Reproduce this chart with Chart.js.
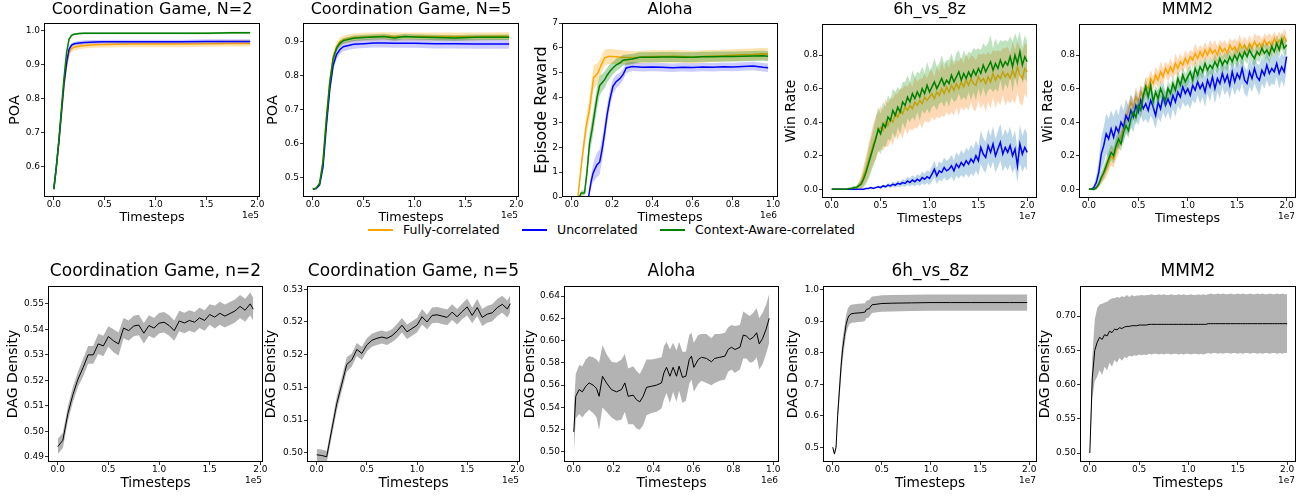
<!DOCTYPE html>
<html>
<head>
<meta charset="utf-8">
<script src="https://cdn.jsdelivr.net/npm/chart.js@4.4.1/dist/chart.umd.min.js"></script>
<style>
  body { margin: 0; background: #fff; width: 1307px; height: 497px; overflow: hidden; position: relative; font-family: "DejaVu Sans", sans-serif; }
  canvas { position: absolute; }
  .ln { position: absolute; top: 229px; width: 25px; height: 1.5px; }
  .tx { position: absolute; top: 222px; font-size: 12.5px; line-height: 16px; color: #000; white-space: nowrap; }
</style>
</head>
<body>
<span class="ln" style="left:368px;background:#FFA500"></span><span class="tx" style="left:403px">Fully-correlated</span>
<span class="ln" style="left:522px;background:#0000FF"></span><span class="tx" style="left:557px">Uncorrelated</span>
<span class="ln" style="left:660px;background:#008000"></span><span class="tx" style="left:695px">Context-Aware-correlated</span>
<script>
// ---- tick values ----
const xTicks2 = [0, 0.5, 1.0, 1.5, 2.0];
const xTicks1 = [0, 0.2, 0.4, 0.6, 0.8, 1.0];
const poa2Ticks = [0.6, 0.7, 0.8, 0.9, 1.0];
const poa5Ticks = [0.5, 0.6, 0.7, 0.8, 0.9];
const rewardTicks = [0, 1, 2, 3, 4, 5, 6, 7];
const winTicks = [0.0, 0.2, 0.4, 0.6, 0.8];
const dagN2Ticks = [0.49, 0.50, 0.51, 0.52, 0.53, 0.54, 0.55];
const dagN5Ticks = [0.500, 0.505, 0.510, 0.515, 0.520, 0.525];
const dagAloTicks = [0.50, 0.52, 0.54, 0.56, 0.58, 0.60, 0.62, 0.64];
const dagH6Ticks = [0.5, 0.6, 0.7, 0.8, 0.9, 1.0];
const dagMmTicks = [0.50, 0.55, 0.60, 0.65, 0.70];

// ---- Coordination game N=2 (x in 1e5) ----
const cg2X = [0, 0.025, 0.05, 0.075, 0.1, 0.125, 0.15, 0.175, 0.2, 0.25, 0.3, 0.4, 0.5, 0.75, 1.0, 1.25, 1.5, 1.75, 1.93];
const cg2Orange = [0.534, 0.6, 0.67, 0.755, 0.835, 0.895, 0.935, 0.947, 0.951, 0.954, 0.956, 0.958, 0.959, 0.96, 0.96, 0.96, 0.961, 0.962, 0.962];
const cg2Blue = [0.534, 0.6, 0.675, 0.76, 0.845, 0.905, 0.945, 0.957, 0.961, 0.963, 0.965, 0.966, 0.967, 0.967, 0.967, 0.967, 0.968, 0.968, 0.968];
const cg2Green = [0.534, 0.6, 0.68, 0.77, 0.86, 0.934, 0.975, 0.986, 0.989, 0.991, 0.992, 0.992, 0.992, 0.992, 0.992, 0.992, 0.992, 0.993, 0.993];
const cg2OrangeSd = [0, 0.004, 0.007, 0.009, 0.01, 0.01, 0.01, 0.009, 0.009, 0.009, 0.009, 0.009, 0.009, 0.009, 0.009, 0.009, 0.009, 0.009, 0.009];
const cg2BlueSd = [0, 0.004, 0.006, 0.008, 0.008, 0.008, 0.007, 0.006, 0.006, 0.006, 0.006, 0.006, 0.006, 0.006, 0.006, 0.006, 0.006, 0.006, 0.006];
const cg2GreenSd = [0, 0.004, 0.006, 0.008, 0.008, 0.006, 0.004, 0.003, 0.003, 0.003, 0.003, 0.003, 0.003, 0.003, 0.003, 0.003, 0.003, 0.003, 0.003];

// ---- Coordination game N=5 (x in 1e5) ----
const cg5X = [0, 0.033, 0.067, 0.1, 0.133, 0.167, 0.2, 0.233, 0.267, 0.3, 0.4, 0.5, 0.6, 0.7, 0.8, 0.9, 1.0, 1.2, 1.4, 1.6, 1.8, 1.93];
const cg5Orange = [0.465, 0.468, 0.483, 0.548, 0.675, 0.785, 0.855, 0.885, 0.9, 0.906, 0.912, 0.914, 0.915, 0.916, 0.915, 0.915, 0.915, 0.915, 0.915, 0.915, 0.916, 0.916];
const cg5Blue = [0.465, 0.467, 0.478, 0.53, 0.65, 0.76, 0.83, 0.862, 0.877, 0.885, 0.892, 0.894, 0.896, 0.896, 0.895, 0.895, 0.895, 0.894, 0.894, 0.893, 0.893, 0.893];
const cg5Green = [0.465, 0.468, 0.482, 0.545, 0.67, 0.78, 0.85, 0.88, 0.895, 0.903, 0.91, 0.912, 0.914, 0.915, 0.911, 0.915, 0.914, 0.912, 0.911, 0.913, 0.913, 0.913];
const cg5OrangeSd = [0, 0.002, 0.004, 0.008, 0.012, 0.014, 0.014, 0.013, 0.013, 0.012, 0.012, 0.012, 0.012, 0.012, 0.012, 0.012, 0.012, 0.012, 0.012, 0.012, 0.012, 0.012];
const cg5BlueSd = [0, 0.002, 0.004, 0.008, 0.012, 0.014, 0.014, 0.014, 0.013, 0.013, 0.013, 0.013, 0.013, 0.013, 0.013, 0.013, 0.013, 0.014, 0.014, 0.014, 0.014, 0.014];
const cg5GreenSd = [0, 0.002, 0.003, 0.006, 0.009, 0.01, 0.01, 0.009, 0.008, 0.008, 0.008, 0.008, 0.008, 0.008, 0.008, 0.008, 0.008, 0.008, 0.008, 0.008, 0.008, 0.008];

// ---- Aloha episode reward (x in 1e6) ----
const aloOrangeX = [0.03, 0.05, 0.071, 0.085, 0.1, 0.108, 0.12, 0.13, 0.145, 0.163, 0.18, 0.2, 0.25, 0.3, 0.35, 0.4, 0.45, 0.5, 0.55, 0.6, 0.65, 0.7, 0.75, 0.8, 0.85, 0.9, 0.95, 0.975];
const aloOrange = [0, 1.5, 2.84, 3.4, 4.3, 4.8, 4.9, 5.0, 5.3, 5.6, 5.65, 5.65, 5.62, 5.6, 5.63, 5.65, 5.65, 5.66, 5.65, 5.62, 5.65, 5.67, 5.68, 5.7, 5.72, 5.73, 5.76, 5.74];
const aloOrangeSd = [0, 0.3, 0.4, 0.45, 0.5, 0.5, 0.45, 0.4, 0.35, 0.33, 0.3, 0.3, 0.28, 0.26, 0.25, 0.25, 0.25, 0.25, 0.25, 0.25, 0.25, 0.24, 0.24, 0.24, 0.24, 0.24, 0.24, 0.24];
const aloBlueX = [0.083, 0.095, 0.105, 0.113, 0.125, 0.138, 0.15, 0.163, 0.175, 0.188, 0.204, 0.221, 0.237, 0.254, 0.27, 0.3, 0.35, 0.4, 0.45, 0.5, 0.55, 0.6, 0.65, 0.7, 0.75, 0.8, 0.85, 0.9, 0.95, 0.975];
const aloBlue = [0, 0.6, 0.95, 1.1, 1.3, 1.4, 1.9, 2.6, 3.3, 3.9, 4.45, 4.65, 4.75, 4.92, 5.19, 5.25, 5.22, 5.23, 5.22, 5.2, 5.22, 5.21, 5.23, 5.22, 5.24, 5.23, 5.25, 5.27, 5.22, 5.2];
const aloBlueSd = [0, 0.25, 0.35, 0.45, 0.5, 0.5, 0.45, 0.4, 0.38, 0.35, 0.3, 0.27, 0.24, 0.22, 0.2, 0.18, 0.17, 0.17, 0.17, 0.17, 0.17, 0.17, 0.17, 0.17, 0.17, 0.17, 0.17, 0.17, 0.17, 0.17];
const aloGreenX = [0.038, 0.045, 0.063, 0.075, 0.088, 0.1, 0.113, 0.125, 0.138, 0.15, 0.163, 0.175, 0.188, 0.205, 0.221, 0.24, 0.254, 0.3, 0.337, 0.4, 0.45, 0.5, 0.55, 0.6, 0.65, 0.7, 0.75, 0.8, 0.85, 0.9, 0.95, 0.975];
const aloGreen = [0, 0.15, 0.17, 1.0, 2.17, 2.7, 3.38, 4.0, 4.48, 4.6, 4.72, 4.9, 5.05, 5.2, 5.32, 5.4, 5.5, 5.55, 5.62, 5.62, 5.63, 5.63, 5.62, 5.62, 5.64, 5.64, 5.65, 5.65, 5.66, 5.67, 5.68, 5.66];
const aloGreenSd = [0, 0.1, 0.12, 0.3, 0.4, 0.45, 0.45, 0.45, 0.4, 0.35, 0.33, 0.3, 0.28, 0.25, 0.25, 0.22, 0.22, 0.2, 0.2, 0.2, 0.2, 0.2, 0.2, 0.2, 0.2, 0.2, 0.2, 0.2, 0.2, 0.2, 0.2, 0.2];

// ---- SMAC runs share one x grid (x in 1e7) ----
const smacX = [
  0, 0.025, 0.05, 0.075, 0.1, 0.125, 0.15, 0.175,
  0.2, 0.225, 0.25, 0.275, 0.3, 0.325, 0.35, 0.375,
  0.4, 0.425, 0.45, 0.475, 0.5, 0.525, 0.55, 0.575,
  0.6, 0.625, 0.65, 0.675, 0.7, 0.725, 0.75, 0.775,
  0.8, 0.825, 0.85, 0.875, 0.9, 0.925, 0.95, 0.975,
  1.0, 1.025, 1.05, 1.075, 1.1, 1.125, 1.15, 1.175,
  1.2, 1.225, 1.25, 1.275, 1.3, 1.325, 1.35, 1.375,
  1.4, 1.425, 1.45, 1.475, 1.5, 1.525, 1.55, 1.575,
  1.6, 1.625, 1.65, 1.675, 1.7, 1.725, 1.75, 1.775,
  1.8, 1.825, 1.85, 1.875, 1.9, 1.925, 1.95, 1.975,
  2.0];

// 6h_vs_8z win rate
const h6Orange = [
  0, 0, 0, 0, 0, 0, 0, 0,
  0, 0.005, 0.01, 0.02, 0.04, 0.08, 0.12, 0.17,
  0.22, 0.27, 0.31, 0.34, 0.37, 0.35, 0.4, 0.38,
  0.42, 0.4, 0.45, 0.43, 0.47, 0.45, 0.49, 0.47,
  0.5, 0.48, 0.52, 0.5, 0.53, 0.51, 0.55, 0.53,
  0.55, 0.57, 0.54, 0.58, 0.56, 0.6, 0.57, 0.61,
  0.58, 0.62, 0.59, 0.63, 0.6, 0.64, 0.61, 0.65,
  0.62, 0.66, 0.63, 0.62, 0.67, 0.64, 0.66, 0.63,
  0.67, 0.64, 0.69, 0.65, 0.68, 0.66, 0.7, 0.67,
  0.69, 0.66, 0.71, 0.67, 0.73, 0.68, 0.66, 0.72,
  0.7];
const h6Blue = [
  0, 0, 0, 0, 0, 0, 0, 0,
  0, 0, 0, 0, 0, 0, 0.005, 0.005,
  0.01, 0.005, 0.01, 0.015, 0.01, 0.02, 0.015, 0.025,
  0.02, 0.03, 0.025, 0.035, 0.03, 0.04, 0.035, 0.05,
  0.04, 0.055, 0.045, 0.06, 0.05, 0.07, 0.06, 0.075,
  0.065, 0.09, 0.12, 0.08, 0.11, 0.1, 0.13, 0.11,
  0.12, 0.14, 0.11, 0.15, 0.13, 0.16, 0.14, 0.17,
  0.15, 0.18, 0.16, 0.2, 0.17, 0.25, 0.21, 0.19,
  0.26, 0.22, 0.27, 0.2, 0.24, 0.28, 0.21, 0.25,
  0.22, 0.26, 0.2, 0.24, 0.14, 0.27, 0.21, 0.25,
  0.22];
const h6Green = [
  0, 0, 0, 0, 0, 0, 0, 0.005,
  0.005, 0.01, 0.01, 0.02, 0.03, 0.06, 0.1, 0.15,
  0.2, 0.25, 0.3, 0.36, 0.33, 0.39, 0.37, 0.43,
  0.41, 0.47, 0.44, 0.49, 0.46, 0.52, 0.5, 0.55,
  0.52, 0.57, 0.54, 0.58, 0.55, 0.6, 0.57, 0.62,
  0.58, 0.61, 0.64, 0.6, 0.63, 0.66, 0.62, 0.65,
  0.63, 0.68, 0.64, 0.67, 0.7, 0.65, 0.69, 0.66,
  0.7, 0.67, 0.71, 0.68, 0.72, 0.69, 0.74, 0.7,
  0.73, 0.76, 0.71, 0.75, 0.72, 0.77, 0.73, 0.76,
  0.74, 0.79, 0.73, 0.8, 0.75, 0.82, 0.74, 0.79,
  0.76];
const h6OrangeSd = [
  0, 0, 0, 0, 0, 0, 0, 0,
  0, 0.005, 0.01, 0.02, 0.04, 0.06, 0.08, 0.1,
  0.11, 0.12, 0.13, 0.12, 0.13, 0.12, 0.14, 0.13,
  0.13, 0.14, 0.12, 0.14, 0.13, 0.15, 0.13, 0.14,
  0.14, 0.13, 0.15, 0.14, 0.13, 0.15, 0.14, 0.13,
  0.15, 0.14, 0.13, 0.15, 0.14, 0.16, 0.14, 0.15,
  0.14, 0.16, 0.15, 0.14, 0.16, 0.15, 0.14, 0.16,
  0.15, 0.14, 0.16, 0.15, 0.14, 0.16, 0.15, 0.17,
  0.15, 0.16, 0.14, 0.17, 0.15, 0.16, 0.14, 0.17,
  0.16, 0.15, 0.17, 0.16, 0.15, 0.17, 0.16, 0.15,
  0.16];
const h6BlueSd = [
  0, 0, 0, 0, 0, 0, 0, 0,
  0, 0, 0, 0, 0, 0, 0.003, 0.003,
  0.006, 0.004, 0.006, 0.008, 0.007, 0.01, 0.009, 0.012,
  0.012, 0.015, 0.014, 0.018, 0.017, 0.02, 0.02, 0.025,
  0.024, 0.028, 0.027, 0.03, 0.03, 0.035, 0.034, 0.038,
  0.04, 0.045, 0.05, 0.048, 0.055, 0.053, 0.06, 0.058,
  0.062, 0.065, 0.063, 0.07, 0.068, 0.075, 0.072, 0.078,
  0.08, 0.085, 0.083, 0.09, 0.088, 0.1, 0.095, 0.092,
  0.1, 0.098, 0.105, 0.1, 0.108, 0.11, 0.104, 0.11,
  0.108, 0.112, 0.105, 0.11, 0.1, 0.115, 0.108, 0.112,
  0.11];
const h6GreenSd = [
  0, 0, 0, 0, 0, 0, 0, 0.005,
  0.005, 0.01, 0.01, 0.02, 0.03, 0.05, 0.07, 0.09,
  0.1, 0.11, 0.12, 0.13, 0.12, 0.13, 0.12, 0.13,
  0.12, 0.13, 0.14, 0.12, 0.13, 0.12, 0.14, 0.13,
  0.12, 0.14, 0.13, 0.12, 0.14, 0.13, 0.12, 0.14,
  0.13, 0.12, 0.14, 0.13, 0.12, 0.14, 0.13, 0.12,
  0.14, 0.13, 0.12, 0.14, 0.13, 0.12, 0.14, 0.13,
  0.12, 0.14, 0.13, 0.15, 0.12, 0.14, 0.13, 0.15,
  0.14, 0.16, 0.13, 0.15, 0.14, 0.12, 0.15, 0.13,
  0.14, 0.12, 0.15, 0.13, 0.14, 0.12, 0.11, 0.13,
  0.12];

// MMM2 win rate
const mmOrange = [
  0, 0, 0, 0.01, 0.03, 0.06, 0.09, 0.12,
  0.16, 0.2, 0.18, 0.24, 0.27, 0.32, 0.37, 0.42,
  0.47, 0.52, 0.49, 0.55, 0.52, 0.58, 0.55, 0.62,
  0.6, 0.66, 0.63, 0.68, 0.65, 0.7, 0.67, 0.72,
  0.69, 0.73, 0.7, 0.75, 0.72, 0.76, 0.74, 0.78,
  0.75, 0.79, 0.77, 0.81, 0.78, 0.82, 0.79, 0.83,
  0.8, 0.84, 0.81, 0.83, 0.8, 0.85, 0.82, 0.84,
  0.81, 0.86, 0.83, 0.85, 0.82, 0.87, 0.84, 0.86,
  0.83, 0.87, 0.84, 0.88, 0.85, 0.87, 0.84, 0.89,
  0.86, 0.88, 0.85, 0.9, 0.86, 0.89, 0.87, 0.91,
  0.88];
const mmBlue = [
  0, 0, 0.01, 0.04, 0.1, 0.21, 0.26, 0.33,
  0.3, 0.36, 0.31, 0.37, 0.34, 0.4, 0.37, 0.44,
  0.41, 0.47, 0.43, 0.5, 0.46, 0.53, 0.48, 0.51,
  0.47, 0.53, 0.49, 0.44, 0.52, 0.48, 0.55, 0.5,
  0.54, 0.5, 0.56, 0.52, 0.58, 0.55, 0.61, 0.57,
  0.6, 0.56, 0.62, 0.59, 0.64, 0.6, 0.63, 0.58,
  0.65, 0.61, 0.67, 0.6, 0.66, 0.63, 0.69, 0.64,
  0.68, 0.62, 0.7, 0.64, 0.69, 0.66, 0.72, 0.65,
  0.63, 0.7, 0.66, 0.72, 0.67, 0.65, 0.71, 0.68,
  0.74, 0.69, 0.72, 0.7, 0.75, 0.69, 0.73, 0.7,
  0.79];
const mmGreen = [
  0, 0, 0, 0.01, 0.03, 0.07, 0.1, 0.14,
  0.18, 0.22, 0.2, 0.26, 0.3, 0.27, 0.34, 0.38,
  0.35, 0.42, 0.46, 0.43, 0.5, 0.47, 0.56, 0.61,
  0.55, 0.62, 0.52, 0.58, 0.54, 0.6, 0.56, 0.53,
  0.6, 0.57, 0.63, 0.59, 0.66, 0.62, 0.68, 0.64,
  0.67, 0.7, 0.65, 0.72, 0.68, 0.73, 0.7, 0.75,
  0.71, 0.74, 0.72, 0.76, 0.73, 0.78, 0.74, 0.77,
  0.75, 0.79, 0.76, 0.8, 0.77, 0.81, 0.78, 0.82,
  0.79, 0.83, 0.8, 0.78, 0.82, 0.8, 0.84, 0.81,
  0.83, 0.8, 0.85, 0.82, 0.87, 0.83, 0.89, 0.84,
  0.86];
const mmOrangeSd = [
  0, 0, 0.005, 0.01, 0.02, 0.03, 0.04, 0.05,
  0.05, 0.06, 0.05, 0.06, 0.06, 0.05, 0.06, 0.05,
  0.05, 0.04, 0.05, 0.06, 0.05, 0.04, 0.05, 0.05,
  0.06, 0.05, 0.04, 0.05, 0.05, 0.06, 0.05, 0.04,
  0.05, 0.05, 0.04, 0.06, 0.05, 0.05, 0.04, 0.05,
  0.05, 0.04, 0.05, 0.06, 0.05, 0.04, 0.05, 0.05,
  0.04, 0.05, 0.05, 0.06, 0.05, 0.04, 0.05, 0.05,
  0.05, 0.04, 0.05, 0.05, 0.06, 0.05, 0.04, 0.05,
  0.05, 0.05, 0.04, 0.05, 0.06, 0.05, 0.05, 0.04,
  0.05, 0.05, 0.06, 0.04, 0.05, 0.05, 0.04, 0.05,
  0.05];
const mmBlueSd = [
  0, 0.005, 0.02, 0.04, 0.07, 0.1, 0.11, 0.12,
  0.12, 0.11, 0.12, 0.11, 0.1, 0.11, 0.1, 0.1,
  0.09, 0.1, 0.09, 0.09, 0.08, 0.09, 0.08, 0.09,
  0.08, 0.09, 0.08, 0.08, 0.09, 0.08, 0.09, 0.08,
  0.08, 0.09, 0.08, 0.09, 0.08, 0.08, 0.09, 0.08,
  0.09, 0.08, 0.09, 0.08, 0.08, 0.09, 0.08, 0.09,
  0.08, 0.09, 0.08, 0.09, 0.08, 0.09, 0.08, 0.08,
  0.09, 0.08, 0.09, 0.08, 0.09, 0.08, 0.09, 0.08,
  0.08, 0.09, 0.08, 0.09, 0.08, 0.09, 0.08, 0.08,
  0.09, 0.08, 0.09, 0.08, 0.08, 0.09, 0.08, 0.09,
  0.08];
const mmGreenSd = [
  0, 0, 0.005, 0.01, 0.02, 0.03, 0.04, 0.045,
  0.05, 0.045, 0.05, 0.055, 0.05, 0.045, 0.05, 0.05,
  0.045, 0.05, 0.04, 0.05, 0.045, 0.05, 0.045, 0.05,
  0.05, 0.045, 0.05, 0.04, 0.045, 0.05, 0.045, 0.05,
  0.045, 0.05, 0.045, 0.04, 0.05, 0.045, 0.05, 0.045,
  0.05, 0.045, 0.04, 0.05, 0.045, 0.05, 0.045, 0.04,
  0.045, 0.05, 0.045, 0.05, 0.04, 0.045, 0.05, 0.045,
  0.05, 0.045, 0.04, 0.05, 0.045, 0.05, 0.045, 0.05,
  0.045, 0.04, 0.05, 0.045, 0.05, 0.045, 0.04, 0.05,
  0.045, 0.05, 0.045, 0.04, 0.05, 0.045, 0.05, 0.045,
  0.045];

// ---- DAG density ----
const dagX = [
  0, 0.05, 0.1, 0.15, 0.2, 0.25, 0.3, 0.35, 0.4, 0.45,
  0.5, 0.55, 0.6, 0.65, 0.7, 0.75, 0.8, 0.85, 0.9, 0.95,
  1.0, 1.05, 1.1, 1.15, 1.2, 1.25, 1.3, 1.35, 1.4, 1.45,
  1.5, 1.55, 1.6, 1.65, 1.7, 1.75, 1.8, 1.85, 1.9, 1.93];
const dagN2 = [
  0.494, 0.4965, 0.507, 0.5145, 0.5205, 0.525, 0.530, 0.530, 0.5343, 0.5335,
  0.5372, 0.5355, 0.5343, 0.5405, 0.5395, 0.5413, 0.5417, 0.5385, 0.5415, 0.5405,
  0.5424, 0.5428, 0.5415, 0.5395, 0.5433, 0.5425, 0.5435, 0.5428, 0.5445, 0.5435,
  0.5458, 0.5448, 0.5463, 0.5452, 0.5462, 0.5472, 0.549, 0.5475, 0.55, 0.5479];
const dagN2Sd = [
  0.003, 0.003, 0.003, 0.003, 0.003, 0.0035, 0.0035, 0.0035, 0.004, 0.004,
  0.004, 0.0045, 0.0045, 0.004, 0.004, 0.004, 0.004, 0.004, 0.004, 0.004,
  0.004, 0.004, 0.004, 0.004, 0.004, 0.004, 0.004, 0.004, 0.004, 0.004,
  0.004, 0.0045, 0.0045, 0.0045, 0.0045, 0.0045, 0.0045, 0.0045, 0.0045, 0.0045];
const dagN5 = [
  0.4997, 0.4996, 0.4994, 0.5035, 0.5075, 0.5105, 0.5135, 0.5142, 0.5158, 0.5152,
  0.5165, 0.5172, 0.5175, 0.5177, 0.5175, 0.5179, 0.5186, 0.5195, 0.5185, 0.519,
  0.5195, 0.5208, 0.52, 0.521, 0.5211, 0.5209, 0.5207, 0.5215, 0.5208, 0.5216,
  0.5223, 0.521, 0.5222, 0.5207, 0.5212, 0.5214, 0.5222, 0.5227, 0.522, 0.5228];
const dagN5Sd = [
  0.0009, 0.0009, 0.0009, 0.001, 0.0011, 0.0011, 0.0011, 0.001, 0.001, 0.001,
  0.001, 0.001, 0.001, 0.001, 0.001, 0.001, 0.0011, 0.0011, 0.0011, 0.0011,
  0.0011, 0.0012, 0.0011, 0.0012, 0.0012, 0.0012, 0.0012, 0.0012, 0.0012, 0.0012,
  0.0013, 0.0012, 0.0013, 0.0013, 0.0013, 0.0013, 0.0013, 0.0013, 0.0013, 0.0013];
const dagAloX = [
  0, 0.01, 0.027, 0.043, 0.06, 0.077, 0.097, 0.114, 0.127, 0.144,
  0.164, 0.189, 0.214, 0.239, 0.256, 0.273, 0.298, 0.314, 0.331, 0.348,
  0.365, 0.39, 0.415, 0.44, 0.452, 0.465, 0.482, 0.498, 0.515, 0.528,
  0.545, 0.562, 0.579, 0.59, 0.602, 0.624, 0.64, 0.665, 0.69, 0.707,
  0.732, 0.758, 0.774, 0.791, 0.808, 0.833, 0.85, 0.866, 0.883, 0.9,
  0.917, 0.93, 0.947, 0.964, 0.98];
const dagAlo = [
  0.518, 0.550, 0.556, 0.554, 0.559, 0.562, 0.560, 0.557, 0.550, 0.568,
  0.562, 0.556, 0.554, 0.556, 0.562, 0.550, 0.551, 0.547, 0.545, 0.550,
  0.558, 0.559, 0.560, 0.562, 0.571, 0.576, 0.568, 0.576, 0.568, 0.577,
  0.567, 0.568, 0.583, 0.586, 0.576, 0.583, 0.585, 0.584, 0.581, 0.584,
  0.585, 0.586, 0.592, 0.594, 0.592, 0.594, 0.605, 0.604, 0.601, 0.603,
  0.607, 0.597, 0.602, 0.610, 0.620];
const dagAloSd = [
  0.021, 0.02, 0.022, 0.023, 0.024, 0.024, 0.025, 0.026, 0.03, 0.028,
  0.026, 0.025, 0.026, 0.027, 0.026, 0.025, 0.026, 0.026, 0.025, 0.026,
  0.025, 0.024, 0.024, 0.023, 0.024, 0.023, 0.024, 0.022, 0.023, 0.022,
  0.023, 0.022, 0.022, 0.021, 0.022, 0.022, 0.021, 0.022, 0.021, 0.022,
  0.021, 0.021, 0.02, 0.02, 0.021, 0.02, 0.021, 0.02, 0.021, 0.022,
  0.022, 0.023, 0.023, 0.022, 0.022];
const dagH6X = [0, 0.017, 0.034, 0.05, 0.068, 0.085, 0.1, 0.119, 0.136, 0.153, 0.17, 0.187, 0.22, 0.26, 0.3, 0.33, 0.34, 0.36, 0.37, 0.38, 0.4, 0.45, 0.5, 0.6, 0.8, 1.0, 1.2, 1.4, 1.6, 1.8, 1.98];
const dagH6 = [0.5, 0.479, 0.5, 0.6, 0.682, 0.757, 0.81, 0.852, 0.89, 0.91, 0.92, 0.924, 0.926, 0.927, 0.928, 0.93, 0.937, 0.94, 0.94, 0.945, 0.953, 0.955, 0.957, 0.958, 0.959, 0.96, 0.96, 0.96, 0.96, 0.96, 0.96];
const dagH6Sd = [0, 0.005, 0.01, 0.02, 0.03, 0.035, 0.035, 0.032, 0.03, 0.03, 0.029, 0.029, 0.029, 0.029, 0.029, 0.028, 0.028, 0.028, 0.027, 0.027, 0.026, 0.026, 0.026, 0.026, 0.026, 0.026, 0.026, 0.026, 0.026, 0.026, 0.026];
const dagMm = [
  0.5, 0.61, 0.65, 0.662, 0.669, 0.666, 0.673, 0.671,
  0.678, 0.676, 0.681, 0.68, 0.683, 0.682, 0.684, 0.685,
  0.685, 0.686, 0.686, 0.686, 0.687, 0.687, 0.687, 0.687,
  0.688, 0.688, 0.688, 0.688, 0.688, 0.688, 0.688, 0.688,
  0.688, 0.688, 0.688, 0.688, 0.688, 0.688, 0.688, 0.688,
  0.688, 0.688, 0.688, 0.688, 0.688, 0.688, 0.688, 0.688,
  0.689, 0.689, 0.689, 0.689, 0.689, 0.689, 0.689, 0.689,
  0.689, 0.689, 0.689, 0.689, 0.689, 0.689, 0.689, 0.689,
  0.689, 0.689, 0.689, 0.689, 0.689, 0.689, 0.689, 0.689,
  0.689, 0.689, 0.689, 0.689, 0.689, 0.689, 0.689, 0.689,
  0.689];
const dagMmSd = [
  0, 0.03, 0.045, 0.05, 0.048, 0.052, 0.047, 0.05,
  0.046, 0.05, 0.045, 0.048, 0.044, 0.047, 0.044, 0.046,
  0.043, 0.045, 0.043, 0.044, 0.043, 0.044, 0.043, 0.044,
  0.043, 0.044, 0.043, 0.043, 0.044, 0.043, 0.044, 0.043,
  0.043, 0.044, 0.043, 0.043, 0.044, 0.043, 0.044, 0.043,
  0.043, 0.044, 0.043, 0.043, 0.044, 0.043, 0.044, 0.043,
  0.043, 0.044, 0.043, 0.043, 0.044, 0.043, 0.044, 0.043,
  0.043, 0.044, 0.043, 0.043, 0.044, 0.043, 0.044, 0.043,
  0.043, 0.044, 0.043, 0.043, 0.044, 0.043, 0.044, 0.043,
  0.043, 0.044, 0.043, 0.043, 0.044, 0.043, 0.044, 0.043,
  0.043];

// ---- drawing ----
Chart.defaults.font.family = '"DejaVu Sans", sans-serif';
Chart.defaults.color = '#000';

const LINE = { orange: '#FFA500', blue: '#0000FF', green: '#008000' };
const BAND_A = { orange: 'rgba(255,165,0,0.3)', blue: 'rgba(0,0,255,0.2)', green: 'rgba(0,128,0,0.3)' };
const BAND_B = { orange: 'rgba(255,127,14,0.3)', blue: 'rgba(31,119,180,0.3)', green: 'rgba(44,160,44,0.3)' };
const GREY = 'rgba(128,128,128,0.6)';
const PADL = 50, PADR = 12, PADB = 32;

// mean line + shaded std band (lower edge, upper edge filled to lower)
function series(xs, ys, sd, line, band, order, width) {
  return [
    { data: xs.map((x, i) => ({ x, y: ys[i] - sd[i] })), borderWidth: 0, borderColor: 'transparent', pointRadius: 0, fill: false, order: order + 1 },
    { data: xs.map((x, i) => ({ x, y: ys[i] + sd[i] })), borderWidth: 0, borderColor: 'transparent', pointRadius: 0, fill: '-1', backgroundColor: band, order: order + 1 },
    { data: xs.map((x, i) => ({ x, y: ys[i] })), borderColor: line, borderWidth: width, pointRadius: 0, fill: false, order: order }
  ];
}
function three(x1, o, os, x2, b, bs, x3, g, gs, band) {
  return [
    ...series(x1, o, os, LINE.orange, band.orange, 5, 1.5),
    ...series(x2, b, bs, LINE.blue, band.blue, 3, 1.5),
    ...series(x3, g, gs, LINE.green, band.green, 1, 1.5)
  ];
}

const frame = {
  id: 'frame',
  afterDraw(chart, args, opts) {
    const { ctx, chartArea: a } = chart;
    ctx.save();
    ctx.strokeStyle = '#000';
    ctx.lineWidth = 1;
    ctx.strokeRect(a.left + 0.5, a.top + 0.5, a.right - a.left - 1, a.bottom - a.top - 1);
    ctx.font = '9px "DejaVu Sans"';
    ctx.fillStyle = '#000';
    ctx.textAlign = 'right';
    ctx.textBaseline = 'middle';
    ctx.fillText(opts.offset, a.right - 1, a.bottom + 19);
    ctx.restore();
  }
};

function makeChart(p) {
  const [l, r, t, b] = p.box;
  const W = r - l + PADL + PADR, H = b - t + p.padT + PADB;
  const cv = document.createElement('canvas');
  cv.width = W; cv.height = H;
  cv.style.width = W + 'px'; cv.style.height = H + 'px';
  cv.style.left = (l - PADL) + 'px'; cv.style.top = (t - p.padT) + 'px';
  document.body.appendChild(cv);
  const tickFont = { size: 9, lineHeight: 1 };
  const grid = { display: true, drawOnChartArea: false, drawTicks: true, tickLength: 3, color: '#000', lineWidth: 0.8 };
  new Chart(cv, {
    type: 'line',
    data: { datasets: p.sets },
    options: {
      responsive: false, animation: false, devicePixelRatio: 1,
      layout: { padding: { left: 0, right: PADR, top: 0, bottom: 0 } },
      plugins: {
        legend: { display: false }, tooltip: { enabled: false },
        title: {
          display: true, text: p.title, fullSize: false, color: '#000',
          font: { size: p.tSize, weight: 'normal', lineHeight: 1 },
          padding: { top: p.padT - p.tGap - p.tSize / 2, bottom: p.tGap - p.tSize / 2 }
        },
        frame: { offset: p.offset }
      },
      scales: {
        x: {
          type: 'linear', min: p.xMin, max: p.xMax,
          afterBuildTicks: s => { s.ticks = p.xTicks.map(v => ({ value: v })); },
          afterFit: s => { s.height = PADB; s.paddingLeft = 0; s.paddingRight = 0; },
          ticks: { callback: v => v.toFixed(1), font: tickFont, padding: 0, maxRotation: 0, autoSkip: false },
          grid: grid, border: { display: false },
          title: { display: true, text: 'Timesteps', font: { size: p.xSize, lineHeight: 1 }, padding: { top: 0, bottom: PADB - 21 - p.xSize / 2 } }
        },
        y: {
          type: 'linear', min: p.yMin, max: p.yMax,
          afterBuildTicks: s => { s.ticks = p.yTicks.map(v => ({ value: v })); },
          afterFit: s => { s.width = PADL; s.paddingTop = 0; s.paddingBottom = 0; },
          ticks: { callback: v => v.toFixed(p.yDec), font: tickFont, padding: 1, autoSkip: false },
          grid: grid, border: { display: false },
          title: { display: true, text: p.ylab, font: { size: p.ySize, lineHeight: 1 }, padding: { top: PADL - p.yOff - p.ySize / 2, bottom: 0 } }
        }
      }
    },
    plugins: [frame]
  });
}

const panels = [
  { box: [44, 260, 23, 197], padT: 23, tGap: 13.5, title: 'Coordination Game, N=2', tSize: 16, ylab: 'POA', ySize: 14.5, yOff: 29, xSize: 12.7,
    xMin: -0.0965, xMax: 2.0265, xTicks: xTicks2, yMin: 0.511, yMax: 1.022, yTicks: poa2Ticks, yDec: 1, offset: '1e5',
    sets: three(cg2X, cg2Orange, cg2OrangeSd, cg2X, cg2Blue, cg2BlueSd, cg2X, cg2Green, cg2GreenSd, BAND_A) },
  { box: [303, 519, 23, 197], padT: 23, tGap: 13.5, title: 'Coordination Game, N=5', tSize: 16, ylab: 'POA', ySize: 14.5, yOff: 29.7, xSize: 12.7,
    xMin: -0.0965, xMax: 2.0265, xTicks: xTicks2, yMin: 0.442, yMax: 0.955, yTicks: poa5Ticks, yDec: 1, offset: '1e5',
    sets: three(cg5X, cg5Orange, cg5OrangeSd, cg5X, cg5Blue, cg5BlueSd, cg5X, cg5Green, cg5GreenSd, BAND_A) },
  { box: [562, 778, 23, 197], padT: 23, tGap: 13.5, title: 'Aloha', tSize: 16, ylab: 'Episode Reward', ySize: 16, yOff: 20.3, xSize: 12.7,
    xMin: -0.049, xMax: 1.024, xTicks: xTicks1, yMin: 0, yMax: 7, yTicks: rewardTicks, yDec: 0, offset: '1e6',
    sets: three(aloOrangeX, aloOrange, aloOrangeSd, aloBlueX, aloBlue, aloBlueSd, aloGreenX, aloGreen, aloGreenSd, BAND_A) },
  { box: [822, 1037, 24, 198], padT: 24, tGap: 14, title: '6h_vs_8z', tSize: 16, ylab: 'Win Rate', ySize: 14, yOff: 30.3, xSize: 12.7,
    xMin: -0.1, xMax: 2.1, xTicks: xTicks2, yMin: -0.052, yMax: 0.985, yTicks: winTicks, yDec: 1, offset: '1e7',
    sets: three(smacX, h6Orange, h6OrangeSd, smacX, h6Blue, h6BlueSd, smacX, h6Green, h6GreenSd, BAND_B) },
  { box: [1079, 1296, 24, 198], padT: 24, tGap: 14, title: 'MMM2', tSize: 16, ylab: 'Win Rate', ySize: 14, yOff: 30.7, xSize: 12.7,
    xMin: -0.1, xMax: 2.095, xTicks: xTicks2, yMin: -0.052, yMax: 0.985, yTicks: winTicks, yDec: 1, offset: '1e7',
    sets: three(smacX, mmOrange, mmOrangeSd, smacX, mmBlue, mmBlueSd, smacX, mmGreen, mmGreenSd, BAND_B) },
  { box: [48, 263, 286, 462], padT: 30, tGap: 14.3, title: 'Coordination Game, n=2', tSize: 17, ylab: 'DAG Density', ySize: 14, yOff: 34.7, xSize: 13.7,
    xMin: -0.0965, xMax: 2.0265, xTicks: xTicks2, yMin: 0.488, yMax: 0.557, yTicks: dagN2Ticks, yDec: 2, offset: '1e5',
    sets: series(dagX, dagN2, dagN2Sd, '#000', GREY, 1, 1) },
  { box: [307, 520, 286, 462], padT: 30, tGap: 14.3, title: 'Coordination Game, n=5', tSize: 17, ylab: 'DAG Density', ySize: 14, yOff: 35.3, xSize: 13.7,
    xMin: -0.0965, xMax: 2.0265, xTicks: xTicks2, yMin: 0.4986, yMax: 0.5255, yTicks: dagN5Ticks, yDec: 2, offset: '1e5',
    sets: series(dagX, dagN5, dagN5Sd, '#000', GREY, 1, 1) },
  { box: [564, 779, 286, 462], padT: 30, tGap: 14.3, title: 'Aloha', tSize: 17, ylab: 'DAG Density', ySize: 14, yOff: 34, xSize: 13.7,
    xMin: -0.049, xMax: 1.029, xTicks: xTicks1, yMin: 0.491, yMax: 0.649, yTicks: dagAloTicks, yDec: 2, offset: '1e6',
    sets: series(dagAloX, dagAlo, dagAloSd, '#000', GREY, 1, 1) },
  { box: [823, 1037, 286, 462], padT: 30, tGap: 14.3, title: '6h_vs_8z', tSize: 17, ylab: 'DAG Density', ySize: 14, yOff: 29.7, xSize: 13.7,
    xMin: -0.099, xMax: 2.079, xTicks: xTicks2, yMin: 0.453, yMax: 1.0127, yTicks: dagH6Ticks, yDec: 1, offset: '1e7',
    sets: series(dagH6X, dagH6, dagH6Sd, '#000', GREY, 1, 1) },
  { box: [1080, 1296, 286, 462], padT: 30, tGap: 14.3, title: 'MMM2', tSize: 17, ylab: 'DAG Density', ySize: 14, yOff: 35, xSize: 13.7,
    xMin: -0.0995, xMax: 2.0895, xTicks: xTicks2, yMin: 0.487, yMax: 0.744, yTicks: dagMmTicks, yDec: 2, offset: '1e7',
    sets: series(smacX, dagMm, dagMmSd, '#000', GREY, 1, 1) }
];

panels.forEach(makeChart);
</script>
</body>
</html>
